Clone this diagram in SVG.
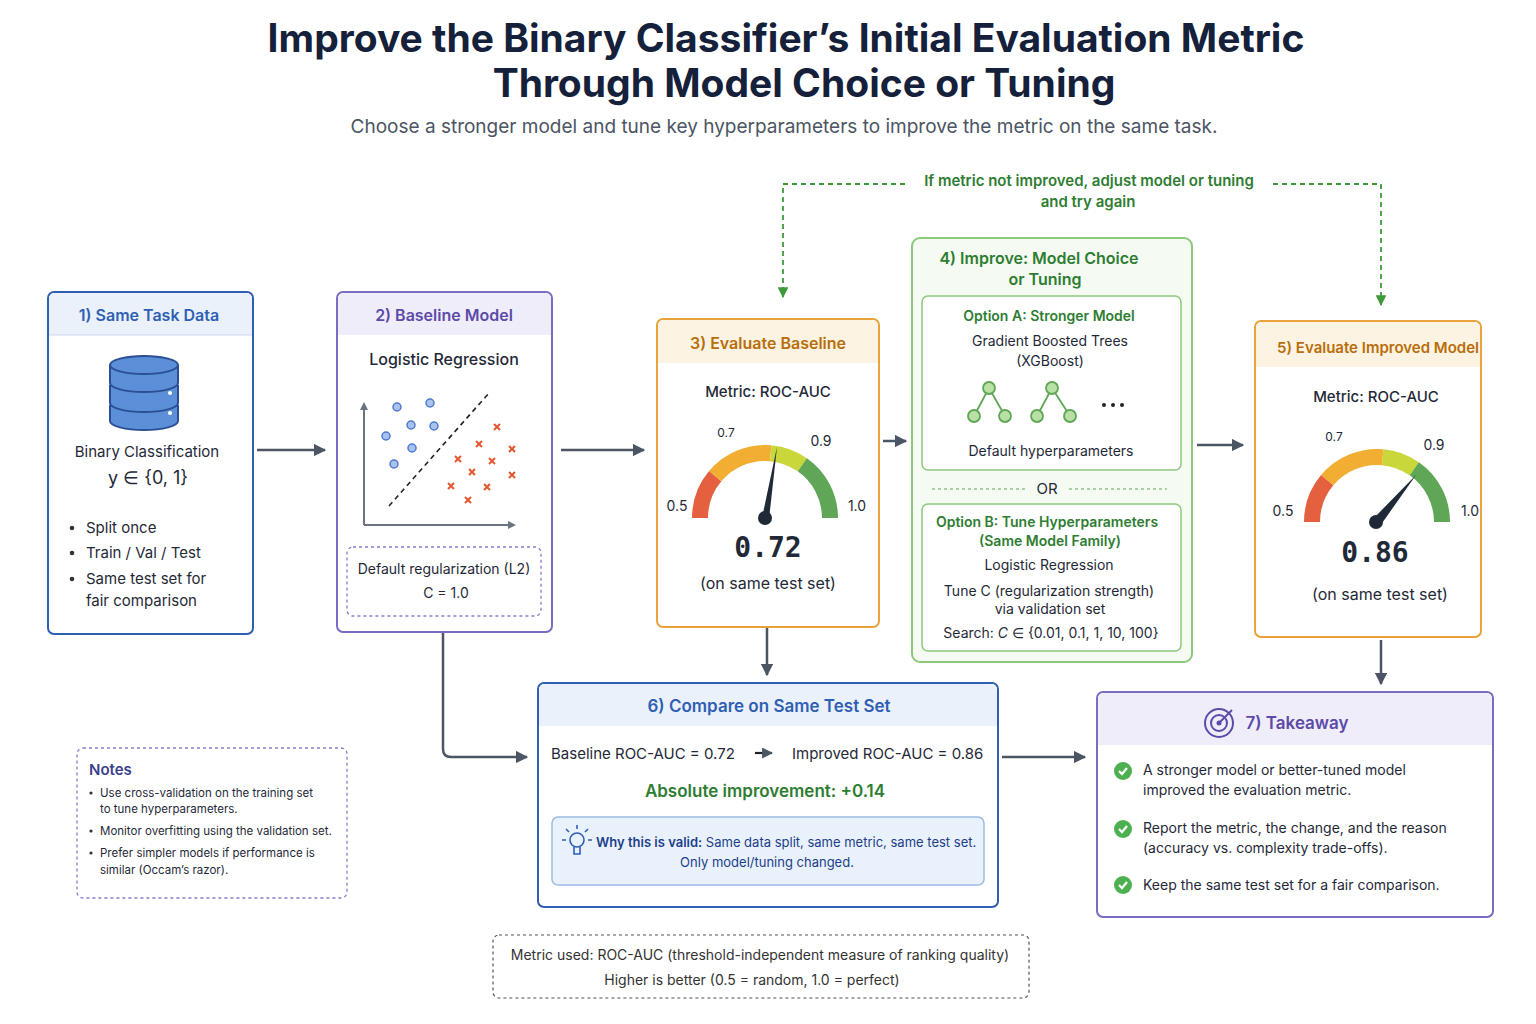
<svg xmlns="http://www.w3.org/2000/svg" xmlns:xlink="http://www.w3.org/1999/xlink" width="1536" height="1024" viewBox="0 0 1536 1024">
<style>
text{font-family:"Inter","Noto Sans","Liberation Sans",sans-serif;fill:#1f2937}
.t{font-size:16px;font-weight:600}
.b{font-size:15px}
.s{font-size:14px}
.xs{font-size:12px}
.c{text-anchor:middle}
.conn{stroke:#4b5563;stroke-width:2.5;fill:none}
.loop{stroke:#3f9a3a;stroke-width:1.8;fill:none;stroke-dasharray:5 4}
</style>
<defs>
<marker id="ah" viewBox="0 0 10 10" refX="9" refY="5" markerWidth="5" markerHeight="5" orient="auto"><path d="M0,0L10,5L0,10z" fill="#4b5563"/></marker>
<marker id="ag" viewBox="0 0 10 10" refX="9" refY="5" markerWidth="6" markerHeight="6" orient="auto"><path d="M0,0L10,5L0,10z" fill="#3f9a3a"/></marker>
<g id="gauge" fill="none" stroke-width="16">
<path d="M-65,0A65,65 0 0 1 -49.8,-41.8" stroke="#e4603f"/>
<path d="M-49.8,-41.8A65,65 0 0 1 5.7,-64.8" stroke="#f2ad33"/>
<path d="M5.7,-64.8A65,65 0 0 1 37.3,-53.2" stroke="#c9d73a"/>
<path d="M37.3,-53.2A65,65 0 0 1 65,0" stroke="#5fa656"/>
</g>
<g id="ok"><circle r="9" fill="#4caf50"/><path d="M-4,0l3,3l5,-6" stroke="#fff" stroke-width="2.2" fill="none"/></g>
</defs>
<rect width="1536" height="1024" fill="#fff"/>
<text x="786" y="52" class="c" style="font-size:39px;font-weight:700;fill:#15203a">Improve the Binary Classifier’s Initial Evaluation Metric</text>
<text x="804" y="97" class="c" style="font-size:39px;font-weight:700;fill:#15203a">Through Model Choice or Tuning</text>
<text x="784" y="133" class="c" style="font-size:19px;fill:#4b5563">Choose a stronger model and tune key hyperparameters to improve the metric on the same task.</text>

<g id="connectors">
<path class="conn" d="M257,450H325" marker-end="url(#ah)"/>
<path class="conn" d="M561,450H644" marker-end="url(#ah)"/>
<path class="conn" d="M883,441H906" marker-end="url(#ah)"/>
<path class="conn" d="M1197,445H1243" marker-end="url(#ah)"/>
<path class="conn" d="M767,628V675" marker-end="url(#ah)"/>
<path class="conn" d="M1381,640V684" marker-end="url(#ah)"/>
<path class="conn" d="M1002,757H1085" marker-end="url(#ah)"/>
<path class="conn" d="M443,633V749Q443,757 451,757H527" marker-end="url(#ah)"/>
<path class="loop" d="M905,184H783V297" marker-end="url(#ag)"/>
<path class="loop" d="M1273,184H1381V305" marker-end="url(#ag)"/>
<text x="1089" y="186" class="c" style="font-size:15px;font-weight:600;fill:#2e7d32">If metric not improved, adjust model or tuning</text>
<text x="1088" y="207" class="c" style="font-size:15px;font-weight:600;fill:#2e7d32">and try again</text>
</g>

<g id="n1">
<rect x="48" y="292" width="205" height="342" rx="6" fill="#fff" stroke="#2f5fb3" stroke-width="2"/>
<path d="M49,335V299a6,6 0 0 1 6,-6H246a6,6 0 0 1 6,6V335z" fill="#eaf1fb"/>
<line x1="49" y1="335" x2="252" y2="335" stroke="#c9d7ef"/>
<text x="149" y="321" class="t c" style="fill:#2f5fb3">1) Same Task Data</text>
<g fill="#5b8fd8" stroke="#2a4f94" stroke-width="2">
<path d="M110,405v16a34,9 0 0 0 68,0v-16"/>
<path d="M110,385v18a34,9 0 0 0 68,0v-18"/>
<path d="M110,365v18a34,9 0 0 0 68,0v-18"/>
<ellipse cx="144" cy="365" rx="34" ry="9"/>
</g>
<circle cx="170" cy="393" r="2" fill="#fff"/><circle cx="170" cy="413" r="2" fill="#fff"/>
<text x="147" y="457" class="b c">Binary Classification</text>
<text x="148" y="484" class="c" style="font-size:18px">y ∈ {0, 1}</text>
<g class="b"><text x="86" y="533">Split once</text><text x="86" y="558">Train / Val / Test</text><text x="86" y="584">Same test set for</text><text x="86" y="606">fair comparison</text></g>
<g fill="#333"><circle cx="72" cy="528" r="2.3"/><circle cx="72" cy="553" r="2.3"/><circle cx="72" cy="579" r="2.3"/></g>
</g>

<g id="n2">
<rect x="337" y="292" width="215" height="340" rx="6" fill="#fff" stroke="#7b6bc4" stroke-width="2"/>
<path d="M338,335V299a6,6 0 0 1 6,-6H545a6,6 0 0 1 6,6V335z" fill="#f0edfa"/>
<text x="444" y="321" class="t c" style="fill:#5b4aa8">2) Baseline Model</text>
<text x="444" y="365" class="c" style="font-size:16px;font-weight:500">Logistic Regression</text>
<path d="M364,525V405M364,525H512" stroke="#6b7280" stroke-width="2" fill="none"/>
<path d="M360,410l4,-8l4,8zM508,521l8,4l-8,4z" fill="#6b7280"/>
<line x1="389" y1="506" x2="489" y2="393" stroke="#222" stroke-width="1.6" stroke-dasharray="5 4"/>
<g fill="#a9c2ee" stroke="#4c7ad1" stroke-width="1.5">
<circle cx="397" cy="407" r="4"/><circle cx="430" cy="403" r="4"/><circle cx="411" cy="425" r="4"/><circle cx="434" cy="426" r="4"/><circle cx="386" cy="436" r="4"/><circle cx="412" cy="448" r="4"/><circle cx="394" cy="464" r="4"/></g>
<g stroke="#e4572e" stroke-width="2">
<path d="M494,424l6,6m0,-6l-6,6M476,441l6,6m0,-6l-6,6M509,446l6,6m0,-6l-6,6M455,456l6,6m0,-6l-6,6M489,458l6,6m0,-6l-6,6M469,469l6,6m0,-6l-6,6M509,472l6,6m0,-6l-6,6M448,483l6,6m0,-6l-6,6M484,484l6,6m0,-6l-6,6M465,497l6,6m0,-6l-6,6"/></g>
<rect x="347" y="547" width="194" height="69" rx="6" fill="none" stroke="#8b7cd0" stroke-width="1.3" stroke-dasharray="3 3"/>
<text x="444" y="574" class="s c">Default regularization (L2)</text>
<text x="446" y="598" class="s c">C = 1.0</text>
</g>

<g id="n3">
<rect x="657" y="319" width="222" height="308" rx="6" fill="#fff" stroke="#e8a33c" stroke-width="2"/>
<path d="M658,363V326a6,6 0 0 1 6,-6H872a6,6 0 0 1 6,6V363z" fill="#fdf3e2"/>
<text x="768" y="349" class="t c" style="fill:#b86e0a">3) Evaluate Baseline</text>
<text x="768" y="397" class="b c" style="font-weight:500">Metric: ROC-AUC</text>
<use xlink:href="#gauge" x="765" y="518"/>
<text x="726" y="437" class="xs c">0.7</text><text x="821" y="446" class="s c">0.9</text>
<text x="677" y="511" class="s c">0.5</text><text x="857" y="511" class="s c">1.0</text>
<path d="M762,518L777,447L769,519z" fill="#1f2937"/><circle cx="765" cy="518" r="7" fill="#1f2937"/>
<text x="768" y="557" class="c" style="font-size:28px;font-weight:700;font-family:'DejaVu Sans Mono',monospace">0.72</text>
<text x="768" y="589" class="b c" style="font-size:16px">(on same test set)</text>
</g>

<g id="n4">
<rect x="912" y="238" width="280" height="424" rx="8" fill="#f5fbf2" stroke="#8cc97a" stroke-width="2"/>
<text x="1039" y="264" class="t c" style="fill:#2e7d32">4) Improve: Model Choice</text>
<text x="1045" y="285" class="t c" style="fill:#2e7d32">or Tuning</text>
<rect x="922" y="296" width="259" height="174" rx="6" fill="#fff" stroke="#8cc97a" stroke-width="1.5"/>
<text x="1049" y="321" class="s c" style="font-weight:600;fill:#2e7d32">Option A: Stronger Model</text>
<text x="1050" y="346" class="s c">Gradient Boosted Trees</text>
<text x="1050" y="366" class="s c">(XGBoost)</text>
<g stroke="#5fa656" stroke-width="1.8" fill="#b9e0a5">
<path d="M989,388L974,416M989,388L1005,416M1052,388L1037,416M1052,388L1070,416" fill="none"/>
<circle cx="989" cy="388" r="6"/><circle cx="974" cy="416" r="6"/><circle cx="1005" cy="416" r="6"/>
<circle cx="1052" cy="388" r="6"/><circle cx="1037" cy="416" r="6"/><circle cx="1070" cy="416" r="6"/></g>
<g fill="#222"><circle cx="1104" cy="405" r="2"/><circle cx="1113" cy="405" r="2"/><circle cx="1122" cy="405" r="2"/></g>
<text x="1051" y="456" class="s c">Default hyperparameters</text>
<path d="M932,489H1025M1069,489H1167" stroke="#5fa656" stroke-dasharray="3 3"/>
<text x="1047" y="494" class="c" style="font-size:15px">OR</text>
<rect x="922" y="504" width="259" height="147" rx="6" fill="#fff" stroke="#8cc97a" stroke-width="1.5"/>
<text x="1047" y="527" class="s c" style="font-weight:600;fill:#2e7d32">Option B: Tune Hyperparameters</text>
<text x="1050" y="546" class="s c" style="font-weight:600;fill:#2e7d32">(Same Model Family)</text>
<text x="1049" y="570" class="s c">Logistic Regression</text>
<text x="1049" y="596" class="s c">Tune C (regularization strength)</text>
<text x="1050" y="614" class="s c">via validation set</text>
<text x="1051" y="638" class="s c">Search:  <tspan font-style="italic">C</tspan> ∈ {0.01, 0.1, 1, 10, 100}</text>
</g>

<g id="n5">
<rect x="1255" y="321" width="226" height="316" rx="6" fill="#fff" stroke="#e8a33c" stroke-width="2"/>
<path d="M1256,367V328a6,6 0 0 1 6,-6H1474a6,6 0 0 1 6,6V367z" fill="#fdf3e2"/>
<text x="1378" y="353" class="c" style="font-size:15px;font-weight:600;fill:#b86e0a">5) Evaluate Improved Model</text>
<text x="1376" y="402" class="b c" style="font-weight:500">Metric: ROC-AUC</text>
<use xlink:href="#gauge" x="1377" y="522"/>
<text x="1334" y="441" class="xs c">0.7</text><text x="1434" y="450" class="s c">0.9</text>
<text x="1283" y="516" class="s c">0.5</text><text x="1470" y="516" class="s c">1.0</text>
<path d="M1373,519L1416,475L1380,526z" fill="#1f2937"/><circle cx="1376" cy="522" r="7" fill="#1f2937"/>
<text x="1375" y="562" class="c" style="font-size:28px;font-weight:700;font-family:'DejaVu Sans Mono',monospace">0.86</text>
<text x="1380" y="600" class="b c" style="font-size:16px">(on same test set)</text>
</g>

<g id="n6">
<rect x="538" y="683" width="460" height="224" rx="6" fill="#fff" stroke="#2f5fb3" stroke-width="2"/>
<path d="M539,726V690a6,6 0 0 1 6,-6H991a6,6 0 0 1 6,6V726z" fill="#eaf1fb"/>
<text x="769" y="712" class="t c" style="fill:#2f5fb3;font-size:17px">6) Compare on Same Test Set</text>
<text x="551" y="759" class="b">Baseline ROC-AUC = 0.72</text>
<path d="M755,753H772" stroke="#222" stroke-width="2.2" marker-end="url(#ah)"/>
<text x="792" y="759" class="b">Improved ROC-AUC = 0.86</text>
<text x="765" y="797" class="c" style="font-size:17px;font-weight:600;fill:#2e7d32">Absolute improvement: +0.14</text>
<rect x="552" y="817" width="432" height="68" rx="6" fill="#e9f1fc" stroke="#9dbbe6" stroke-width="1.5"/>
<g stroke="#2f5fb3" stroke-width="1.6" fill="none"><circle cx="577" cy="840" r="7"/><path d="M574,847v7h6v-7M577,829v-4M566,840h-4M592,840h-4M569,832l-3,-3M585,832l3,-3"/></g>
<text x="596" y="847" style="font-size:13px;fill:#1d3f8a"><tspan font-weight="600">Why this is valid:</tspan> Same data split, same metric, same test set.</text>
<text x="767" y="867" style="font-size:13px;fill:#1d3f8a" class="c">Only model/tuning changed.</text>
</g>

<g id="n7">
<rect x="1097" y="692" width="396" height="225" rx="6" fill="#fff" stroke="#7a6cc0" stroke-width="2"/>
<path d="M1098,745V699a6,6 0 0 1 6,-6H1486a6,6 0 0 1 6,6V745z" fill="#f0edfa"/>
<g stroke="#5b4aa8" stroke-width="2" fill="none"><circle cx="1219" cy="723" r="14"/><circle cx="1219" cy="723" r="8"/><path d="M1219,723L1232,710"/></g>
<circle cx="1219" cy="723" r="2.5" fill="#5b4aa8"/>
<text x="1297" y="729" class="c" style="font-size:17px;font-weight:600;fill:#5b4aa8">7) Takeaway</text>
<use xlink:href="#ok" x="1123" y="771"/><use xlink:href="#ok" x="1123" y="829"/><use xlink:href="#ok" x="1123" y="885"/>
<g class="s"><text x="1143" y="775">A stronger model or better-tuned model</text><text x="1143" y="795">improved the evaluation metric.</text>
<text x="1143" y="833">Report the metric, the change, and the reason</text><text x="1143" y="853">(accuracy vs. complexity trade-offs).</text>
<text x="1143" y="890">Keep the same test set for a fair comparison.</text></g>
</g>

<g id="notes">
<rect x="77" y="748" width="270" height="150" rx="6" fill="#fff" stroke="#8b7cd0" stroke-width="1.3" stroke-dasharray="3 3"/>
<text x="89" y="775" style="font-size:15px;font-weight:600;fill:#3b3f8a">Notes</text>
<g style="font-size:11.5px"><text x="100" y="797">Use cross-validation on the training set</text><text x="100" y="813">to tune hyperparameters.</text>
<text x="100" y="835">Monitor overfitting using the validation set.</text>
<text x="100" y="857">Prefer simpler models if performance is</text><text x="100" y="874">similar (Occam’s razor).</text></g>
<g fill="#333"><circle cx="91" cy="793" r="1.6"/><circle cx="91" cy="831" r="1.6"/><circle cx="91" cy="853" r="1.6"/></g>
</g>

<g id="footer">
<rect x="493" y="935" width="536" height="63" rx="6" fill="#fff" stroke="#555" stroke-width="1.2" stroke-dasharray="3 3"/>
<text x="760" y="960" class="s c" style="fill:#333">Metric used: ROC-AUC (threshold-independent measure of ranking quality)</text>
<text x="752" y="985" class="s c" style="fill:#333">Higher is better (0.5 = random, 1.0 = perfect)</text>
</g>
</svg>
